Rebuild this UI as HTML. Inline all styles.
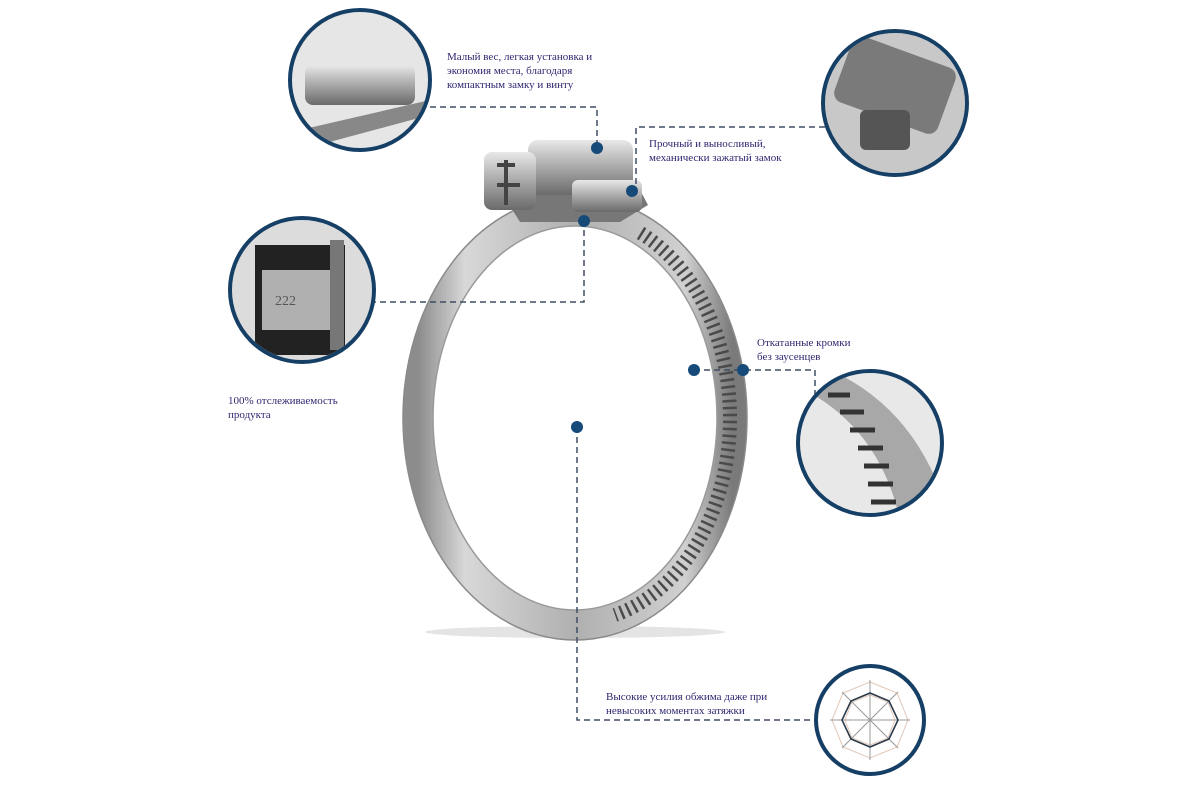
<!DOCTYPE html>
<html><head><meta charset="utf-8"><style>
html,body{margin:0;padding:0;background:#fff;}
svg{display:block}
text{font-family:"Liberation Serif",serif;font-size:11px;fill:#2e2870;}
</style></head><body>
<svg width="1200" height="800" viewBox="0 0 1200 800" xmlns="http://www.w3.org/2000/svg">
<defs>
<linearGradient id="band" x1="0" y1="0" x2="1" y2="0">
<stop offset="0" stop-color="#8c8c8c"/><stop offset="0.15" stop-color="#d8d8d8"/><stop offset="0.5" stop-color="#b0b0b0"/><stop offset="0.85" stop-color="#d0d0d0"/><stop offset="1" stop-color="#7a7a7a"/>
</linearGradient>
<linearGradient id="metal" x1="0" y1="0" x2="0" y2="1">
<stop offset="0" stop-color="#e8e8e8"/><stop offset="0.5" stop-color="#a8a8a8"/><stop offset="1" stop-color="#6a6a6a"/>
</linearGradient>
<clipPath id="c1"><circle cx="360" cy="80" r="68"/></clipPath>
<clipPath id="c2"><circle cx="895" cy="103" r="70"/></clipPath>
<clipPath id="c3"><circle cx="302" cy="290" r="70"/></clipPath>
<clipPath id="c4"><circle cx="870" cy="443" r="70"/></clipPath>
</defs>
<ellipse cx="575" cy="632" rx="150" ry="6" fill="#e4e4e4"/>
<ellipse cx="575" cy="418" rx="157" ry="207" fill="none" stroke="url(#band)" stroke-width="30"/>
<ellipse cx="575" cy="418" rx="172" ry="222" fill="none" stroke="#8a8a8a" stroke-width="1.5"/>
<ellipse cx="575" cy="418" rx="142" ry="192" fill="none" stroke="#9a9a9a" stroke-width="1.5"/>
<!-- slots on right side -->
<path d="M640.5 233 A155 204 0 0 1 615 615" fill="none" stroke="#4a4a4a" stroke-width="14" stroke-dasharray="2.5 4.5"/>
<!-- housing -->
<g>
<path d="M500 190 L520 185 L640 190 L648 205 L620 222 L520 222 Z" fill="#777"/>
<rect x="528" y="140" width="105" height="55" rx="10" fill="url(#metal)"/>
<rect x="572" y="180" width="70" height="32" rx="6" fill="url(#metal)"/>
<rect x="484" y="152" width="52" height="58" rx="8" fill="url(#metal)"/>
<path d="M497 165 L515 165 M506 160 L506 205 M497 185 L520 185" stroke="#444" stroke-width="4"/>
</g>
<g stroke="#3e4d62" stroke-width="1.5" stroke-dasharray="6 4" fill="none">
<path d="M430 107 H597 V147"/>
<path d="M825 127 H636 V188"/>
<path d="M584 220 V302 H375"/>
<path d="M745 370 H815 V395"/>
<path d="M694 370 H745"/>
<path d="M577 427 V720 H815"/>
</g>
<g fill="#164a78">
<circle cx="597" cy="148" r="6"/><circle cx="632" cy="191" r="6"/><circle cx="584" cy="221" r="6"/>
<circle cx="694" cy="370" r="6"/><circle cx="743" cy="370" r="6"/><circle cx="577" cy="427" r="6"/>
</g>
<g clip-path="url(#c1)"><rect x="290" y="10" width="140" height="140" fill="#e6e6e6"/>
<rect x="305" y="65" width="110" height="40" rx="8" fill="url(#metal)"/><path d="M300 130 L430 100 L430 115 L300 150Z" fill="#888"/></g>
<g clip-path="url(#c2)"><rect x="820" y="30" width="150" height="150" fill="#c8c8c8"/>
<rect x="840" y="50" width="110" height="70" rx="10" fill="#7a7a7a" transform="rotate(20 895 85)"/><rect x="860" y="110" width="50" height="40" rx="6" fill="#555"/></g>
<g clip-path="url(#c3)"><rect x="230" y="218" width="145" height="145" fill="#dcdcdc"/>
<rect x="255" y="245" width="90" height="110" fill="#222"/><rect x="262" y="270" width="72" height="60" fill="#b0b0b0"/><rect x="330" y="240" width="14" height="110" fill="#777"/>
<text x="275" y="305" style="fill:#555;font-size:14px">222</text></g>
<g clip-path="url(#c4)"><rect x="798" y="371" width="145" height="145" fill="#e8e8e8"/>
<path d="M805 390 Q880 430 900 520 L950 520 Q920 410 830 370Z" fill="#a8a8a8"/>
<g stroke="#333" stroke-width="5"><path d="M828 395 h22"/><path d="M840 412 h24"/><path d="M850 430 h25"/><path d="M858 448 h25"/><path d="M864 466 h25"/><path d="M868 484 h25"/><path d="M871 502 h25"/></g></g>
<g fill="none" stroke="#163f66" stroke-width="4">
<circle cx="360" cy="80" r="70"/><circle cx="895" cy="103" r="72"/><circle cx="302" cy="290" r="72"/><circle cx="870" cy="443" r="72"/><circle cx="870" cy="720" r="54"/>
</g>
<g fill="none" stroke-width="1">
<polygon points="870,682 897,693 908,720 897,747 870,758 843,747 832,720 843,693" stroke="#e0c8b8"/>
<polygon points="870,695 888,702 895,720 888,738 870,745 852,738 845,720 852,702" stroke="#e0c8b8"/>
<path d="M870 680 V760 M830 720 H910 M842 692 L898 748 M898 692 L842 748" stroke="#999"/>
<polygon points="870,693 889,701 898,720 889,739 870,747 851,739 842,720 851,701" stroke="#2a3a4a" stroke-width="1.6"/>
</g>
<text x="447" y="60">Малый вес, легкая установка и</text>
<text x="447" y="74">экономия места, благодаря</text>
<text x="447" y="88">компактным замку и винту</text>
<text x="649" y="147">Прочный и выносливый,</text>
<text x="649" y="161">механически зажатый замок</text>
<text x="757" y="346">Откатанные кромки</text>
<text x="757" y="360">без заусенцев</text>
<text x="228" y="404">100% отслеживаемость</text>
<text x="228" y="418">продукта</text>
<text x="606" y="700">Высокие усилия обжима даже при</text>
<text x="606" y="714">невысоких моментах затяжки</text>
</svg>
</body></html>
